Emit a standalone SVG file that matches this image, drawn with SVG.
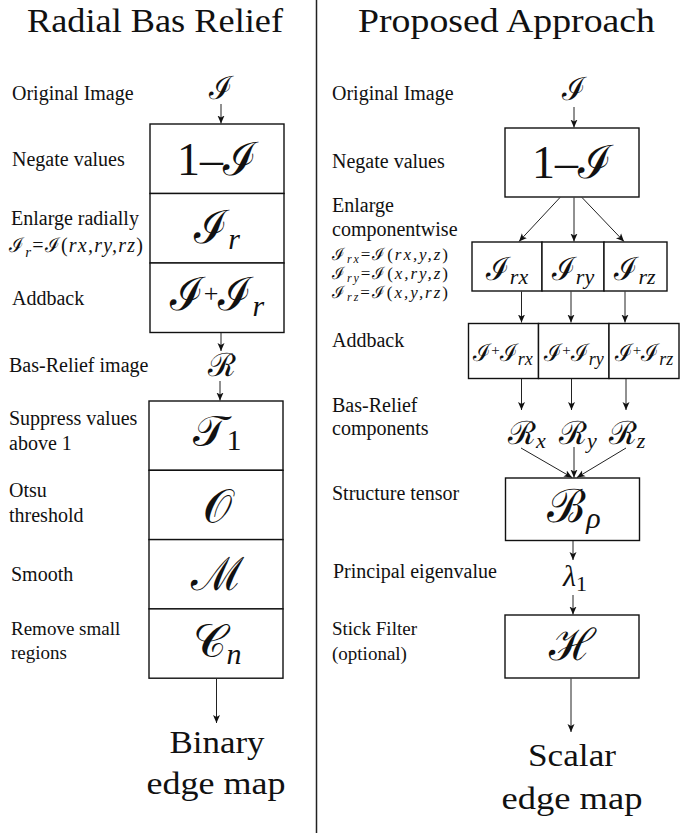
<svg xmlns="http://www.w3.org/2000/svg" width="699" height="833" viewBox="0 0 699 833">
<style>
.title{font-size:33px;fill:#111}
.lbl{font-size:20px;fill:#111}
.lbs{font-size:19px;fill:#111}
.big{font-size:31px;fill:#111;text-anchor:middle}
.m{fill:#111;text-anchor:middle}
.ml{fill:#111;font-size:20px}
.mf{fill:#111;font-size:17px}
.it{font-style:italic}
.box{fill:#fff;stroke:#111;stroke-width:1.4}
.conn line{stroke:#222;stroke-width:1;marker-end:url(#ah)}
.div{stroke:#222;stroke-width:1.5}
</style>
<defs>
<marker id="ah" markerUnits="userSpaceOnUse" markerWidth="10" markerHeight="10" refX="8" refY="4" orient="auto">
<path d="M0,0.5 L8,4 L0,7.5 L2,4 z" fill="#111"/>
</marker>
</defs>
<rect width="699" height="833" fill="#fff"/>
<line class="div" x1="316.5" y1="0" x2="316.5" y2="833"/>

<g font-family="'Liberation Serif', 'DejaVu Serif', serif">
<text class="title" x="155" y="32" text-anchor="middle" textLength="256" lengthAdjust="spacingAndGlyphs">Radial Bas Relief</text>
<text class="title" x="506.5" y="32" text-anchor="middle" textLength="297" lengthAdjust="spacingAndGlyphs">Proposed Approach</text>

<g id="left-labels">
<text class="lbl" x="12" y="100">Original Image</text>
<text class="lbl" x="12" y="166">Negate values</text>
<text class="lbl" x="11" y="225">Enlarge radially</text>
<text class="ml" x="9" y="252" textLength="134">ℐ<tspan class="it" font-size="15" dy="5">r</tspan><tspan dy="-5">=ℐ(</tspan><tspan class="it">rx,ry,rz</tspan>)</text>
<text class="lbl" x="12" y="305">Addback</text>
<text class="lbl" x="9" y="372">Bas-Relief image</text>
<text class="lbl" x="9" y="425">Suppress values</text>
<text class="lbl" x="9" y="450">above 1</text>
<text class="lbl" x="9" y="497">Otsu</text>
<text class="lbl" x="9" y="522">threshold</text>
<text class="lbl" x="11" y="581">Smooth</text>
<text class="lbs" x="11" y="635">Remove small</text>
<text class="lbs" x="11" y="659">regions</text>
</g>

<g id="right-labels">
<text class="lbl" x="332" y="212">Enlarge</text>
<text class="lbl" x="332" y="236">componentwise</text>
<text class="mf" x="332" y="260" textLength="116">ℐ<tspan class="it" font-size="12" dy="3">rx</tspan><tspan dy="-3">=ℐ(</tspan><tspan class="it">rx,y,z</tspan>)</text>
<text class="mf" x="332" y="279" textLength="116">ℐ<tspan class="it" font-size="12" dy="3">ry</tspan><tspan dy="-3">=ℐ(</tspan><tspan class="it">x,ry,z</tspan>)</text>
<text class="mf" x="332" y="298" textLength="116">ℐ<tspan class="it" font-size="12" dy="3">rz</tspan><tspan dy="-3">=ℐ(</tspan><tspan class="it">x,y,rz</tspan>)</text>
<text class="lbl" x="332" y="100">Original Image</text>
<text class="lbl" x="332" y="168">Negate values</text>
<text class="lbl" x="332" y="347">Addback</text>
<text class="lbl" x="332" y="412">Bas-Relief</text>
<text class="lbl" x="332" y="435">components</text>
<text class="lbl" x="332" y="500">Structure tensor</text>
<text class="lbl" x="333" y="578">Principal eigenvalue</text>
<text class="lbs" x="332" y="635">Stick Filter</text>
<text class="lbs" x="332" y="660">(optional)</text>
</g>

<g id="L-I"><text class="m" x="221" y="99" font-size="32">ℐ</text></g>
<g id="L-negate"><rect class="box" x="150" y="124" width="134" height="69.5"/><text class="m" x="217" y="175" font-size="46">1–ℐ</text></g>
<g id="L-enlarge"><rect class="box" x="150" y="193.5" width="134" height="69.5"/><text class="m" x="217" y="243" font-size="46">ℐ<tspan class="it" font-size="30" dy="6">r</tspan></text></g>
<g id="L-addback"><rect class="box" x="150" y="263" width="134" height="69.5"/><text class="m" x="217" y="310" font-size="46">ℐ<tspan font-size="26" dy="-8">+</tspan><tspan dy="8">ℐ</tspan><tspan class="it" font-size="30" dy="6">r</tspan></text></g>
<g id="L-R"><text class="m" x="222" y="376" font-size="32">ℛ</text></g>
<g id="L-suppress"><rect class="box" x="149" y="401" width="134" height="69.3"/><text class="m" x="217" y="446" font-size="44">𝒯<tspan font-size="30" dy="4">1</tspan></text></g>
<g id="L-otsu"><rect class="box" x="149" y="470.3" width="134" height="69.3"/><text class="m" x="217" y="522" font-size="46">𝒪</text></g>
<g id="L-smooth"><rect class="box" x="149" y="539.6" width="134" height="69.3"/><text class="m" x="217" y="590" font-size="46">ℳ</text></g>
<g id="L-cn"><rect class="box" x="149" y="608.9" width="134" height="69.3"/><text class="m" x="217" y="657" font-size="46">𝒞<tspan class="it" font-size="30" dy="7">n</tspan></text></g>
<g id="L-out"><text class="big" x="217" y="753" textLength="95" lengthAdjust="spacingAndGlyphs">Binary</text><text class="big" x="216" y="794" textLength="139" lengthAdjust="spacingAndGlyphs">edge map</text></g>

<g id="R-I"><text class="m" x="574" y="100" font-size="32">ℐ</text></g>
<g id="R-negate"><rect class="box" x="505" y="128" width="134" height="69"/><text class="m" x="572" y="178" font-size="46">1–ℐ</text></g>
<g id="R-Irx"><rect class="box" x="472" y="242" width="70" height="49"/><text class="m" x="507" y="280" font-size="32">ℐ<tspan class="it" font-size="22" dy="4">rx</tspan></text></g>
<g id="R-Iry"><rect class="box" x="542" y="242" width="62" height="49"/><text class="m" x="573" y="280" font-size="32">ℐ<tspan class="it" font-size="22" dy="4">ry</tspan></text></g>
<g id="R-Irz"><rect class="box" x="604" y="242" width="63" height="49"/><text class="m" x="635" y="280" font-size="32">ℐ<tspan class="it" font-size="22" dy="4">rz</tspan></text></g>
<g id="R-Arx"><rect class="box" x="468.5" y="323.5" width="70" height="55"/><text class="m" x="503" y="361" font-size="24">ℐ<tspan font-size="15" dy="-6">+</tspan><tspan dy="6">ℐ</tspan><tspan class="it" font-size="18" dy="4">rx</tspan></text></g>
<g id="R-Ary"><rect class="box" x="538.5" y="323.5" width="70.5" height="55"/><text class="m" x="574" y="361" font-size="24">ℐ<tspan font-size="15" dy="-6">+</tspan><tspan dy="6">ℐ</tspan><tspan class="it" font-size="18" dy="4">ry</tspan></text></g>
<g id="R-Arz"><rect class="box" x="609" y="323.5" width="70" height="55"/><text class="m" x="644" y="361" font-size="24">ℐ<tspan font-size="15" dy="-6">+</tspan><tspan dy="6">ℐ</tspan><tspan class="it" font-size="18" dy="4">rz</tspan></text></g>
<g id="R-Rx"><text class="m" x="527" y="444" font-size="32">ℛ<tspan class="it" font-size="22" dy="4">x</tspan></text></g>
<g id="R-Ry"><text class="m" x="578" y="444" font-size="32">ℛ<tspan class="it" font-size="22" dy="4">y</tspan></text></g>
<g id="R-Rz"><text class="m" x="627" y="444" font-size="32">ℛ<tspan class="it" font-size="22" dy="4">z</tspan></text></g>
<g id="R-B"><rect class="box" x="505.5" y="478" width="134" height="62.5"/><text class="m" x="574" y="522" font-size="46">ℬ<tspan class="it" font-size="30" dy="6">ρ</tspan></text></g>
<g id="R-lambda"><text class="m" x="575" y="586" font-size="30"><tspan class="it">λ</tspan><tspan font-size="22" dy="5">1</tspan></text></g>
<g id="R-H"><rect class="box" x="505" y="615" width="134" height="63"/><text class="m" x="572" y="660" font-size="44">ℋ</text></g>
<g id="R-out"><text class="big" x="572" y="766" textLength="88" lengthAdjust="spacingAndGlyphs">Scalar</text><text class="big" x="572" y="809" textLength="141" lengthAdjust="spacingAndGlyphs">edge map</text></g>
</g>

<g class="conn" id="connectors">
<line x1="221" y1="104" x2="221" y2="123.5"/>
<line x1="221" y1="333" x2="221" y2="351"/>
<line x1="220" y1="381" x2="220" y2="400.5"/>
<line x1="216.5" y1="679" x2="216.5" y2="723"/>
<line x1="574" y1="107" x2="574" y2="127.5"/>
<line x1="560" y1="197.5" x2="519" y2="241.5"/>
<line x1="574" y1="197.5" x2="574" y2="241.5"/>
<line x1="582" y1="197.5" x2="624" y2="241.5"/>
<line x1="521.5" y1="291.5" x2="521.5" y2="322.5"/>
<line x1="571" y1="291.5" x2="571" y2="322.5"/>
<line x1="625" y1="291.5" x2="625" y2="322.5"/>
<line x1="521.5" y1="379" x2="521.5" y2="410"/>
<line x1="571.5" y1="379" x2="571.5" y2="410"/>
<line x1="626" y1="379" x2="626" y2="410"/>
<line x1="521" y1="448" x2="572" y2="477.5"/>
<line x1="574" y1="447" x2="574" y2="477.5"/>
<line x1="626" y1="448" x2="577" y2="477.5"/>
<line x1="573" y1="541" x2="573" y2="560"/>
<line x1="573" y1="595" x2="573" y2="614.5"/>
<line x1="571" y1="678.5" x2="571" y2="732"/>
</g>
</svg>
